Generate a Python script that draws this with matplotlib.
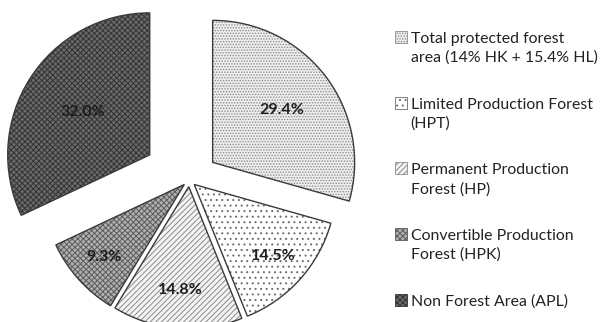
import numpy as np
import matplotlib
matplotlib.use('Agg')
import matplotlib.pyplot as plt
from matplotlib.patches import Patch, Rectangle
from matplotlib.legend_handler import HandlerPatch

# data
labels = ['Total protected forest\narea (14% HK + 15.4% HL)',
          'Limited Production Forest\n(HPT)',
          'Permanent Production\nForest (HP)',
          'Convertible Production\nForest (HPK)',
          'Non Forest Area (APL)']
shares = [29.4, 14.5, 14.8, 9.3, 32.0]

# styling
explode = [0.206, 0.047, 0.047, 0.047, 0.33]
faces = ['#eeeeee', '#ffffff', '#f4f4f4', '#b0b0b0', '#6a6a6a']
hatches = ['......', '...', '//////', 'xxxxxx', 'xxxxxx']
hatch_cols = ['#8c8c8c', '#6c6c6c', '#8a8a8a', '#5c5c5c', '#333333']
pct_dist = [0.61, 0.75, 0.73, 0.76, 0.56]

plt.rcParams['font.family'] = ['Lato', 'DejaVu Sans']
plt.rcParams['hatch.linewidth'] = 0.7

fig = plt.figure(figsize=(6.04, 3.22), dpi=100)
ax = fig.add_axes([0, 0, 1, 1])

# fill + hatch pass
wedges, _ = ax.pie(shares, explode=explode, startangle=90, counterclock=False,
                   colors=faces, wedgeprops=dict(linewidth=0))
for w, h, c in zip(wedges, hatches, hatch_cols):
    w.set_hatch(h)
    w.set_edgecolor(c)

# outline pass
outl, _ = ax.pie(shares, explode=explode, startangle=90, counterclock=False,
                 wedgeprops=dict(facecolor='none', edgecolor='#3a3a3a', linewidth=1.0))

# percentage labels
for w, v, d in zip(wedges, shares, pct_dist):
    ang = np.deg2rad((w.theta1 + w.theta2) / 2)
    cx, cy = w.center
    ax.text(cx + d * np.cos(ang), cy + d * np.sin(ang), f'{v:.1f}%',
            ha='center', va='center', fontsize=11.5, fontweight='bold', color='#1e1e1e')

# radius 1 -> 142 px, centre at (189, 180 from top)
ppu = 142.0
ax.set_xlim(-189.3 / ppu, (604 - 189.3) / ppu)
ax.set_ylim(-(322 - 180) / ppu, 180 / ppu)
ax.axis('off')

# legend, marker next to the first line of each label
fs = 11.4
lsp = 1.42


def first_line(nlines):
    def make(legend, orig_handle, xdescent, ydescent, width, height, fontsize):
        shift = (nlines - 1) * fontsize * lsp * 0.5
        return Rectangle((-xdescent, -ydescent + shift), width, height)
    return make


handles = [Patch(facecolor=f, hatch=h, edgecolor=c, linewidth=0.6)
           for f, h, c in zip(faces, hatches, hatch_cols)]
hmap = {hd: HandlerPatch(patch_func=first_line(lb.count('\n') + 1))
        for hd, lb in zip(handles, labels)}
leg = fig.legend(handles, labels, loc='upper left', bbox_to_anchor=(395 / 604, 1 - 32 / 322),
                 frameon=False, fontsize=fs, handlelength=0.78, handleheight=0.78,
                 handletextpad=0.2, borderpad=0, borderaxespad=0, labelspacing=2.05,
                 handler_map=hmap)
for t in leg.get_texts():
    t.set_color('#222222')
    t.set_linespacing(lsp)

fig.savefig('out.png', dpi=100)
